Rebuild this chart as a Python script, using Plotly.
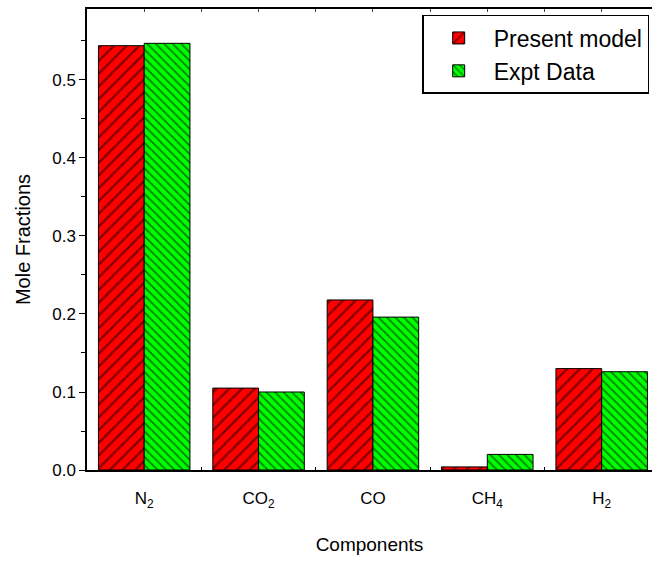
import plotly.graph_objects as go

categories = ["N<sub>2</sub>", "CO<sub>2</sub>", "CO", "CH<sub>4</sub>", "H<sub>2</sub>"]
present_model = [0.544, 0.105, 0.218, 0.004, 0.130]
expt_data = [0.547, 0.100, 0.196, 0.020, 0.126]
y_ticks = [0.0, 0.1, 0.2, 0.3, 0.4, 0.5]

xpos = list(range(len(categories)))
FONT = "Liberation Sans, Arial, sans-serif"

fig = go.Figure()
fig.add_trace(go.Bar(
    x=xpos, y=present_model, name="Present model",
    marker=dict(color="#ff0000", line=dict(color="black", width=1),
                pattern=dict(shape="/", fgcolor="black", bgcolor="#ff0000", size=9, solidity=0.25)),
))
fig.add_trace(go.Bar(
    x=xpos, y=expt_data, name="Expt Data",
    marker=dict(color="#00ff00", line=dict(color="black", width=1),
                pattern=dict(shape="\\", fgcolor="black", bgcolor="#00ff00", size=6, solidity=0.3)),
))

xr = [-0.5, 4.44]
fig.update_layout(
    width=652, height=565,
    margin=dict(l=87, r=0, t=9, b=95),
    paper_bgcolor="white", plot_bgcolor="white",
    barmode="group", bargap=0.2, bargroupgap=0,
    font=dict(family=FONT, color="black"),
    showlegend=True,
    legend=dict(x=0.995, y=0.987, xanchor="right", yanchor="top",
                bordercolor="black", borderwidth=1.5, bgcolor="white",
                font=dict(size=23, family=FONT), itemwidth=60,
                tracegroupgap=2),
    xaxis=dict(range=xr, tickmode="array", tickvals=xpos, ticktext=categories,
               ticks="", showline=True, linecolor="black", linewidth=1.5,
               showgrid=False, zeroline=False,
               tickfont=dict(size=17), ticklabelstandoff=12,
               minor=dict(tickmode="array", tickvals=[0.5, 1.5, 2.5, 3.5],
                          ticks="inside", ticklen=3, tickcolor="black", showgrid=False),
               title=dict(text="Components", font=dict(size=19), standoff=28)),
    xaxis2=dict(range=xr, overlaying="x", side="top", anchor="y",
                showline=True, linecolor="black", linewidth=1.5,
                tickmode="linear", tick0=0, dtick=0.5, ticks="inside", ticklen=3,
                showticklabels=False, showgrid=False, zeroline=False),
    yaxis=dict(range=[0, 0.591], tickmode="array", tickvals=y_ticks,
               ticktext=[f"{v:.1f}" for v in y_ticks],
               ticks="outside", ticklen=6, tickwidth=1, tickcolor="black",
               showline=True, linecolor="black", linewidth=1.5,
               showgrid=False, zeroline=False, tickfont=dict(size=17),
               minor=dict(tickmode="array", tickvals=[0.05, 0.15, 0.25, 0.35, 0.45, 0.55],
                          ticks="outside", ticklen=4, tickcolor="black", showgrid=False),
               title=dict(text="Mole Fractions", font=dict(size=20), standoff=16)),
)
fig.add_trace(go.Scatter(x=[None], y=[None], xaxis="x2", showlegend=False, hoverinfo="skip"))

fig.write_html("out.html")
